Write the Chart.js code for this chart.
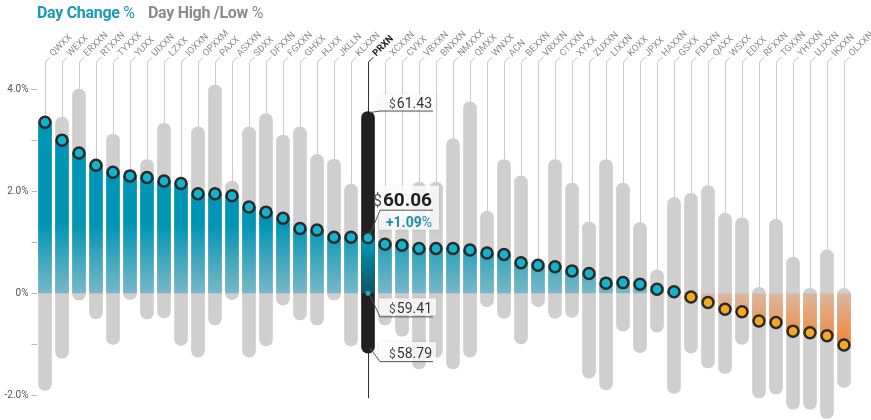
<!DOCTYPE html>
<html>
<head>
<meta charset="utf-8">
<script src="https://cdn.jsdelivr.net/npm/chart.js@4.4.1/dist/chart.umd.min.js"></script>
<style>
  html, body { margin: 0; padding: 0; background: #fff; }
  #wrap { position: relative; width: 871px; height: 420px; }
  .title { position: absolute; top: 3px; font-family: Roboto, sans-serif; font-size: 16px; font-weight: 700; letter-spacing: -0.3px; white-space: nowrap; }
  .title span { font-weight: 400; }
  #t1 { left: 37px; color: #1a9ab6; }
  #t2 { left: 148px; color: #8b8b8b; }
</style>
</head>
<body>
<div id="wrap">
  <canvas id="chart"></canvas>
  <div class="title" id="t1">Day Change <span>%</span></div>
  <div class="title" id="t2">Day High /Low <span>%</span></div>
</div>
<script>
const labels = ['QWXX', 'WEXX', 'ERXXN', 'RTXXN', 'TYXXX', 'YUXX', 'UIXXN', 'LZXX', 'IOXXN', 'OPXXM',
  'PAXX', 'ASXXN', 'SDXX', 'DFXXN', 'FGXXN', 'GHXX', 'HJXX', 'JKLLN', 'KLXXN', 'PRXN',
  'XCXXN', 'CVXX', 'VBXXN', 'BNXXN', 'NMXXX', 'QMXX', 'WNXX', 'ACN', 'BEXXN', 'VRXXN',
  'CTXXN', 'XYXX', 'ZUXXN', 'LIXXN', 'KOXX', 'JPXX', 'HAXXN', 'GSXX', 'FDXXN', 'QAXX',
  'WSXX', 'EDXX', 'RFXXN', 'TGXXN', 'YHXXN', 'UJXXN', 'IKXXN', 'OLXXN'];

// day change in %
const dayChange = [3.35, 3.00, 2.75, 2.51, 2.37, 2.30, 2.27, 2.20, 2.15, 1.95,
  1.95, 1.91, 1.69, 1.59, 1.47, 1.27, 1.24, 1.10, 1.10, 1.09,
  0.96, 0.94, 0.88, 0.88, 0.88, 0.85, 0.79, 0.76, 0.60, 0.55,
  0.52, 0.44, 0.39, 0.20, 0.21, 0.18, 0.08, 0.03, -0.07, -0.18,
  -0.31, -0.36, -0.54, -0.57, -0.74, -0.77, -0.83, -1.01];

// day high / low in %
const dayHigh = [3.35, 3.45, 4.00, 2.51, 3.12, 2.30, 2.62, 3.33, 2.15, 3.26,
  4.08, 2.20, 3.26, 3.52, 3.10, 3.26, 2.72, 2.63, 2.14, 3.56,
  1.60, 1.30, 2.18, 2.18, 3.03, 3.75, 1.61, 2.62, 2.30, 0.55,
  2.62, 2.16, 1.40, 2.62, 2.16, 1.39, 0.46, 1.88, 1.96, 2.11,
  1.57, 1.48, 0.12, 1.45, 0.71, 0.10, 0.85, 0.10];
const dayLow = [-1.90, -1.27, -0.13, -0.50, -1.00, -0.12, -0.50, -0.48, -1.02, -1.25,
  -0.62, -0.12, -1.25, -1.03, -0.23, -0.52, -0.62, -0.13, -1.03, -1.17,
  -0.62, -0.84, -1.48, -1.25, -1.48, -1.25, -0.26, -0.49, -0.99, -0.26,
  -0.49, -0.47, -1.66, -1.89, -0.74, -1.16, -0.76, -1.96, -1.17, -1.46,
  -1.57, -1.00, -2.05, -1.97, -2.27, -2.27, -2.45, -1.84];

const tickValues = [-2, -1, 0, 1, 2, 3, 4];
const tickText = ['-2.0%', '', '0%', '', '2.0%', '', '4.0%'];

const selected = 'PRXN';
const selPrices = ['61.43', '60.06', '59.41', '58.79']; // high, last, prev close, low
const selChangeText = '+1.09';

const selIndex = labels.indexOf(selected);

function changeGradient(c) {
  const chart = c.chart;
  const { chartArea, scales } = chart;
  if (!chartArea) return '#0095b4';
  const i = c.dataIndex;
  const v = dayChange[i];
  const y = scales.y;
  const y0 = y.getPixelForValue(0);
  let g;
  if (i === selIndex) {
    g = chart.ctx.createLinearGradient(0, y.getPixelForValue(0.95), 0, y.getPixelForValue(0.12));
    g.addColorStop(0, '#0095b4');
    g.addColorStop(1, '#0c5a6a');
  } else if (v >= 0) {
    g = chart.ctx.createLinearGradient(0, y0, 0, y.getPixelForValue(1.35));
    g.addColorStop(0, '#79b8c6');
    g.addColorStop(1, '#0095b4');
  } else {
    g = chart.ctx.createLinearGradient(0, y0, 0, y.getPixelForValue(-0.95));
    g.addColorStop(0, '#dcb7a0');
    g.addColorStop(1, '#f0883a');
  }
  return g;
}

function drawPrice(ctx, text, xr, base, size, bold) {
  ctx.font = (bold ? 'bold ' : '') + size + 'px Roboto';
  ctx.fillStyle = bold ? '#1f1f1f' : '#333';
  ctx.textAlign = 'right';
  ctx.fillText(text, xr, base);
  const w = ctx.measureText(text).width;
  ctx.font = Math.round(size * 0.85) + 'px Roboto';
  ctx.fillStyle = '#555';
  ctx.fillText('$', xr - w - 1, base);
}

function labelBox(ctx, x1, y1, x2, y2) {
  ctx.save();
  ctx.shadowColor = 'rgba(0,0,0,0.12)';
  ctx.shadowBlur = 4;
  ctx.fillStyle = 'rgba(255,255,255,0.82)';
  ctx.fillRect(x1, y1, x2 - x1, y2 - y1);
  ctx.restore();
}

const overlay = {
  id: 'overlay',
  beforeDatasetsDraw(chart) {
    const { ctx, chartArea, scales: { x, y } } = chart;
    ctx.save();
    ctx.lineWidth = 1;
    labels.forEach((name, i) => {
      const px = Math.round(x.getPixelForValue(i)) + 0.5;
      const sel = i === selIndex;
      const end = sel ? y.getPixelForValue(dayLow[i]) + 45 : y.getPixelForValue(Math.max(dayHigh[i], dayChange[i]));
      ctx.strokeStyle = sel ? '#333' : '#cdcdcd';
      ctx.beginPath();
      ctx.moveTo(px, chartArea.top);
      ctx.lineTo(px, end);
      ctx.stroke();
    });
    ctx.restore();
  },
  afterDatasetsDraw(chart) {
    const { ctx, chartArea, scales: { x, y } } = chart;
    const top = chartArea.top;
    ctx.save();
    // rotated ticker labels
    labels.forEach((name, i) => {
      const px = Math.round(x.getPixelForValue(i)) + 0.5;
      const sel = i === selIndex;
      ctx.strokeStyle = sel ? '#333' : '#bdbdbd';
      ctx.lineWidth = 1;
      ctx.beginPath();
      ctx.moveTo(px, top);
      ctx.lineTo(px + 5, top - 5);
      ctx.stroke();
      ctx.save();
      ctx.translate(px + 6, top - 7);
      ctx.rotate(-Math.PI / 4);
      ctx.font = (sel ? 'bold ' : '') + '9.5px Roboto';
      ctx.fillStyle = sel ? '#222' : '#8f8f8f';
      ctx.textAlign = 'left';
      ctx.textBaseline = 'middle';
      ctx.fillText(name, 0, 0);
      ctx.restore();
    });

    // callouts for the selected ticker
    const i = selIndex;
    const px = x.getPixelForValue(i);
    const xr = px + 65;
    const yH = y.getPixelForValue(dayHigh[i]);
    const yC = y.getPixelForValue(dayChange[i]);
    const y0 = y.getPixelForValue(0);
    const yL = y.getPixelForValue(dayLow[i]);

    labelBox(ctx, px + 11, yH - 17, xr + 3, yH - 1);
    labelBox(ctx, px + 11, yC - 52, xr + 6, yC - 8);
    labelBox(ctx, px + 11, y0 + 5, xr + 3, y0 + 22);
    labelBox(ctx, px + 11, yL - 11, xr + 3, yL + 8);

    ctx.strokeStyle = '#555';
    ctx.lineWidth = 1;
    const leader = (ax, ay, bx, by) => {
      ctx.beginPath();
      ctx.moveTo(ax, ay);
      ctx.lineTo(bx, by);
      ctx.lineTo(xr, by);
      ctx.stroke();
    };
    leader(px + 2, yH + 1, px + 12, yH - 0.5);
    leader(px + 2, yC - 3, px + 12, yC - 27.5);
    leader(px + 2, y0 + 2, px + 12, y0 + 23.5);
    leader(px + 2, yL - 5, px + 12, yL + 8.5);

    ctx.textBaseline = 'alphabetic';
    drawPrice(ctx, selPrices[0], xr - 1, yH - 4, 14, false);
    drawPrice(ctx, selPrices[1], xr - 1, yC - 32, 19, true);
    drawPrice(ctx, selPrices[2], xr - 1, y0 + 20, 14, false);
    drawPrice(ctx, selPrices[3], xr - 1, yL + 5, 14, false);

    ctx.textAlign = 'right';
    ctx.font = '14px Roboto';
    ctx.fillStyle = '#1a8fa8';
    ctx.fillText('%', xr - 1, yC - 11);
    const pw = ctx.measureText('%').width;
    ctx.font = 'bold 14px Roboto';
    ctx.fillText(selChangeText, xr - 1 - pw, yC - 11);

    ctx.fillStyle = '#1aa9c2';
    ctx.beginPath();
    ctx.arc(px, y0, 2.5, 0, Math.PI * 2);
    ctx.fill();
    ctx.restore();
  }
};

new Chart(document.getElementById('chart'), {
  type: 'bar',
  data: {
    labels: labels,
    datasets: [
      {
        type: 'line',
        data: dayChange,
        showLine: false,
        pointRadius: 5.5,
        pointBorderWidth: 2.5,
        pointBorderColor: '#2a2a2a',
        pointBackgroundColor: dayChange.map(v => v >= 0 ? '#12b3cc' : '#f7a823'),
        order: 1
      },
      {
        data: dayChange,
        backgroundColor: changeGradient,
        barThickness: 13,
        grouped: false,
        order: 2
      },
      {
        data: dayLow.map((lo, i) => [lo, dayHigh[i]]),
        backgroundColor: labels.map((n, i) => i === selIndex ? '#231f20' : '#cfcfcf'),
        borderRadius: 7,
        borderSkipped: false,
        barThickness: 13,
        grouped: false,
        order: 3
      }
    ]
  },
  options: {
    responsive: true,
    maintainAspectRatio: false,
    animation: false,
    devicePixelRatio: 1,
    layout: { autoPadding: false, padding: { top: 62, right: 18.5, left: 0, bottom: 0 } },
    plugins: {
      legend: { display: false },
      tooltip: { enabled: false }
    },
    scales: {
      x: { display: false },
      y: {
        min: -2.48,
        max: 4.53,
        afterFit: (s) => {
          s.width = 36.5;
          s.paddingTop = 0;
          s.paddingBottom = 0;
        },
        afterBuildTicks: (s) => { s.ticks = tickValues.map(v => ({ value: v })); },
        ticks: {
          padding: 3,
          color: '#555',
          font: { family: 'Roboto', size: 10 },
          callback: (v) => tickText[tickValues.indexOf(v)]
        },
        grid: { drawOnChartArea: false, tickLength: 5, color: '#b5b5b5' },
        border: { display: false }
      }
    }
  },
  plugins: [overlay]
});
</script>
</body>
</html>
